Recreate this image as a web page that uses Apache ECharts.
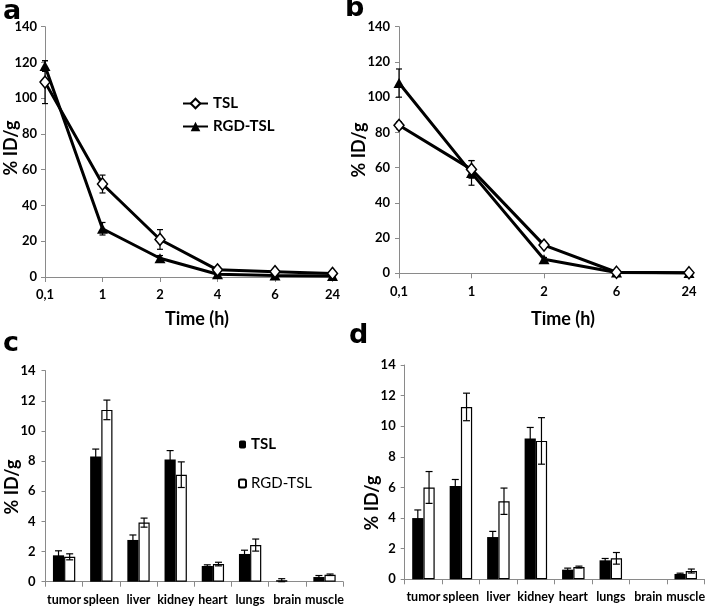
<!DOCTYPE html>
<html><head><meta charset="utf-8">
<script src="https://cdn.jsdelivr.net/npm/echarts@6/dist/echarts.min.js"></script>
<style>html,body{margin:0;padding:0;background:#fff}#c{width:708px;height:609px}</style>
</head><body><div id="c"></div>
<script>
// ---- data ----
const timeA = ['0,1', '1', '2', '4', '6', '24'];
const tslA = [109, 52, 21, 4, 3, 2];
const tslAErr = [12, 5, 5.5, 0.5, 0.5, 0.5];
const rgdA = [118, 27, 10.5, 1.5, 0.8, 0.5];
const rgdAErr = [3, 3.5, 1.5, 0.3, 0.3, 0.2];

const timeB = ['0,1', '1', '2', '6', '24'];
const tslB = [84, 59, 16, 0.6, 0.3];
const tslBErr = [2, 5, 1, 0.2, 0.1];
const rgdB = [108, 57, 8, 0.5, 0.2];
const rgdBErr = [8, 7, 1, 0.2, 0.1];

const organs = ['tumor', 'spleen', 'liver', 'kidney', 'heart', 'lungs', 'brain', 'muscle'];
const tslC = [1.75, 8.3, 2.77, 8.1, 1.04, 1.84, 0.1, 0.31];
const tslCErr = [0.3, 0.5, 0.33, 0.6, 0.08, 0.25, 0.1, 0.1];
const rgdC = [1.65, 11.4, 3.92, 7.1, 1.17, 2.43, null, 0.46];
const rgdCErr = [0.2, 0.65, 0.3, 0.85, 0.12, 0.4, 0, 0.05];

const tslD = [4.0, 6.1, 2.76, 9.2, 0.63, 1.24, null, 0.35];
const tslDErr = [0.53, 0.42, 0.37, 0.72, 0.1, 0.12, 0, 0.05];
const rgdD = [6.0, 11.26, 5.1, 9.04, 0.8, 1.37, null, 0.54];
const rgdDErr = [1.04, 0.9, 0.86, 1.52, 0.06, 0.38, 0, 0.13];

const yTicksTime = {min: 0, max: 140, interval: 20};
const yTicksOrg = {min: 0, max: 14, interval: 2};

// ---- chart ----
const F = 'Lato, "Liberation Sans", sans-serif';
const chart = echarts.init(document.getElementById('c'), null, {renderer: 'canvas'});

function errRender(offsetFrac, capW) {
  return function (params, api) {
    const e = api.value(2), v = api.value(1);
    if (!e || v == null || isNaN(v)) return null;
    const x = api.value(0);
    const top = api.coord([x, v + e]);
    const bot = api.coord([x, Math.max(v - e, 0)]);
    const band = api.size([1, 0])[0];
    const cx = top[0] + offsetFrac * band;
    const st = {stroke: '#000', lineWidth: 1.2};
    return {type: 'group', children: [
      {type: 'line', shape: {x1: cx, y1: top[1], x2: cx, y2: bot[1]}, style: st},
      {type: 'line', shape: {x1: cx - capW / 2, y1: top[1], x2: cx + capW / 2, y2: top[1]}, style: st},
      {type: 'line', shape: {x1: cx - capW / 2, y1: bot[1], x2: cx + capW / 2, y2: bot[1]}, style: st}
    ]};
  };
}
function errData(vals, errs) { return vals.map((v, i) => [i, v, errs[i]]); }

const axisGray = {lineStyle: {color: '#8a8a8a', width: 1}};
const lbl = (m, fs) => ({color: '#000', fontWeight: 'bold', fontSize: fs || 12, fontFamily: F, margin: m});

function xCat(grid, data, boundary, fontSize, margin) {
  return {
    type: 'category', gridIndex: grid, data: data, boundaryGap: boundary,
    axisLine: axisGray, axisTick: {show: true, length: 5, lineStyle: {color: '#8a8a8a'}},
    axisLabel: Object.assign(lbl(margin, fontSize), {interval: 0}),
    splitLine: {show: false}
  };
}
function yVal(grid, t, margin) {
  return {
    type: 'value', gridIndex: grid, min: t.min, max: t.max, interval: t.interval,
    axisLine: Object.assign({show: true}, axisGray),
    axisTick: {show: true, length: 4, lineStyle: {color: '#8a8a8a'}},
    axisLabel: lbl(margin, 13), splitLine: {show: false}
  };
}

function lineSeries(name, grid, data, isDiamond) {
  return {
    name: name, type: 'line', xAxisIndex: grid, yAxisIndex: grid, data: data,
    symbol: isDiamond ? 'diamond' : 'triangle',
    symbolSize: isDiamond ? [10, 12] : [11, 10],
    itemStyle: isDiamond ? {color: '#fff', borderColor: '#000', borderWidth: 1.5} : {color: '#000'},
    lineStyle: {color: '#000', width: 3}, z: isDiamond ? 4 : 3, animation: false
  };
}
function errSeries(grid, vals, errs, off, cap, z) {
  return {
    type: 'custom', xAxisIndex: grid, yAxisIndex: grid, data: errData(vals, errs),
    encode: {x: 0, y: 1}, renderItem: errRender(off, cap), z: z, silent: true, animation: false
  };
}
function barSeries(name, grid, data, dark) {
  return {
    name: name, type: 'bar', xAxisIndex: grid, yAxisIndex: grid, data: data,
    barGap: '0%', barCategoryGap: '40%',
    itemStyle: dark ? {color: '#000'} : {color: '#fff', borderColor: '#000', borderWidth: 1.2},
    animation: false
  };
}

const titleStyle = (x, y, text, rot) => ({
  type: 'text', x: x, y: y, rotation: rot ? Math.PI / 2 : 0,
  style: {text: text, fontFamily: F, fontWeight: 'bold', fontSize: 18, fill: '#000',
    align: 'center', verticalAlign: 'middle'}
});
const panelLetter = (x, y, t) => ({
  type: 'text', x: x, y: y,
  style: {text: t, fontFamily: '"DejaVu Sans",sans-serif', fontWeight: 'bold', fontSize: 27, fill: '#000',
    align: 'left', verticalAlign: 'middle'}
});

const legendNames = {cT: 'TSL', cR: 'RGD-TSL'};

chart.setOption({
  animation: false,
  grid: [
    {left: 45, top: 26.7, width: 287.5, height: 250.3},
    {left: 399, top: 26.7, width: 290, height: 246.6},
    {left: 45.5, top: 370.7, width: 297.6, height: 211},
    {left: 404.7, top: 365, width: 302, height: 214.3}
  ],
  xAxis: [
    xCat(0, timeA, false, 13, 11),
    xCat(1, timeB, false, 13, 12),
    xCat(2, organs, true, 12.5, 12),
    xCat(3, organs, true, 12.5, 11)
  ],
  yAxis: [
    yVal(0, yTicksTime, 8),
    yVal(1, yTicksTime, 9),
    yVal(2, yTicksOrg, 10),
    yVal(3, yTicksOrg, 9)
  ],
  legend: [
    {orient: 'vertical', left: 177, top: 91, itemWidth: 25, itemHeight: 12, itemGap: 8,
      data: ['TSL', 'RGD-TSL'],
      textStyle: {fontWeight: 'bold', fontSize: 15, fontFamily: F, color: '#000'}},
    {orient: 'vertical', left: 233, top: 432, itemWidth: 7, itemHeight: 8, itemGap: 24,
      data: [{name: 'cT', textStyle: {fontWeight: 'bold'}}, {name: 'cR', textStyle: {fontWeight: 'normal'}}],
      formatter: (n) => legendNames[n],
      textStyle: {fontSize: 15, fontFamily: F, color: '#000'}}
  ],
  series: [
    errSeries(0, tslA, tslAErr, 0, 6, 1),
    errSeries(0, rgdA, rgdAErr, 0, 6, 1),
    lineSeries('RGD-TSL', 0, rgdA, false),
    lineSeries('TSL', 0, tslA, true),
    errSeries(1, tslB, tslBErr, 0, 6, 1),
    errSeries(1, rgdB, rgdBErr, 0, 6, 1),
    lineSeries('RGD-TSL', 1, rgdB, false),
    lineSeries('TSL', 1, tslB, true),
    barSeries('cT', 2, tslC, true),
    barSeries('cR', 2, rgdC, false),
    errSeries(2, tslC, tslCErr, -0.15, 7, 5),
    errSeries(2, rgdC, rgdCErr, 0.15, 7, 5),
    barSeries('dT', 3, tslD, true),
    barSeries('dR', 3, rgdD, false),
    errSeries(3, tslD, tslDErr, -0.15, 7, 5),
    errSeries(3, rgdD, rgdDErr, 0.15, 7, 5)
  ],
  graphic: [
    panelLetter(3, 12, 'a'),
    panelLetter(345, 9, 'b'),
    panelLetter(3, 344, 'c'),
    panelLetter(349, 336, 'd'),
    titleStyle(197, 319, 'Time (h)', false),
    titleStyle(563, 319, 'Time (h)', false),
    titleStyle(11, 148, '% ID/g', true),
    titleStyle(359, 150, '% ID/g', true),
    titleStyle(12, 487, '% ID/g', true),
    titleStyle(372, 503, '% ID/g', true)
  ]
});
</script></body></html>
